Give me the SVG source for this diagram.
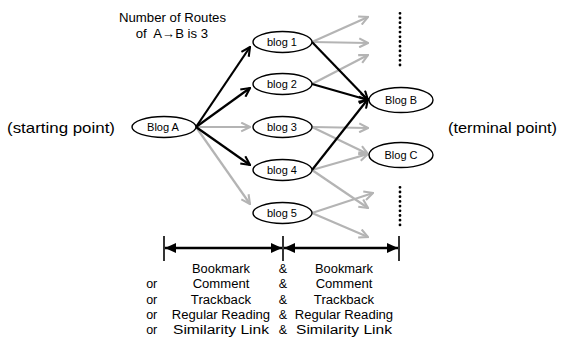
<svg xmlns="http://www.w3.org/2000/svg" width="561" height="338" viewBox="0 0 561 338">
  <style>
    text { font-family: "Liberation Sans", Arial, sans-serif; fill: #000; }
    .lbl { font-size: 11px; text-anchor: middle; }
    .cap { font-size: 12.5px; }
    .big { font-size: 14.5px; }
    .col { font-size: 12.5px; text-anchor: middle; }
    .node ellipse { fill: #fff; stroke: #000; stroke-width: 1.4; }
    .blk { stroke: #000; stroke-width: 2.2; fill: none; marker-end: url(#vBlk); }
    .gry { stroke: #b4b4b4; stroke-width: 2.2; fill: none; marker-end: url(#vGry); }
    .dots { stroke: #000; stroke-width: 2.8; stroke-linecap: round; stroke-dasharray: 0 4.7; }
    .tick { stroke: #000; stroke-width: 1.6; }
    .dim { stroke: #000; stroke-width: 2.4; }
  </style>
  <defs>
    <marker id="vBlk" viewBox="0 0 10 10" refX="9" refY="5" markerWidth="11" markerHeight="11" markerUnits="userSpaceOnUse" orient="auto">
      <path d="M1,1 L9,5 L1,9" fill="none" stroke="#000" stroke-width="1.9"/>
    </marker>
    <marker id="vGry" viewBox="0 0 10 10" refX="9" refY="5" markerWidth="11" markerHeight="11" markerUnits="userSpaceOnUse" orient="auto">
      <path d="M1,1 L9,5 L1,9" fill="none" stroke="#b4b4b4" stroke-width="1.9"/>
    </marker>
    <marker id="tri" viewBox="0 0 11 10" refX="11" refY="5" markerWidth="11" markerHeight="10" markerUnits="userSpaceOnUse" orient="auto-start-reverse">
      <path d="M0,0 L11,5 L0,10 Z" fill="#000"/>
    </marker>
  </defs>

  <!-- captions -->
  <text class="cap" x="119" y="22" textLength="107" lengthAdjust="spacingAndGlyphs">Number of Routes</text>
  <text class="cap" x="135.7" y="37.5" textLength="11" lengthAdjust="spacingAndGlyphs">of</text>
  <text class="cap" x="153.3" y="37.5" textLength="54.7" lengthAdjust="spacingAndGlyphs">A→B is 3</text>
  <text class="big" x="7" y="132.5" textLength="108" lengthAdjust="spacingAndGlyphs">(starting point)</text>
  <text class="big" x="448" y="132.5" textLength="109" lengthAdjust="spacingAndGlyphs">(terminal point)</text>

  <!-- connectors -->
  <g id="connectors">
    <line class="gry" x1="196" y1="127" x2="250" y2="127"/>
    <line class="gry" x1="196" y1="127" x2="250" y2="204"/>
    <line class="gry" x1="312" y1="42" x2="368" y2="17"/>
    <line class="gry" x1="312" y1="42" x2="368" y2="43"/>
    <line class="gry" x1="312" y1="84" x2="368" y2="55"/>
    <line class="gry" x1="312" y1="127" x2="368" y2="128"/>
    <line class="gry" x1="312" y1="127" x2="368" y2="154"/>
    <line class="gry" x1="312" y1="170" x2="368" y2="154"/>
    <line class="gry" x1="312" y1="170" x2="368" y2="208"/>
    <line class="gry" x1="312" y1="213" x2="373" y2="193"/>
    <line class="gry" x1="312" y1="213" x2="368" y2="237"/>
    <line class="blk" x1="196" y1="127" x2="250" y2="47"/>
    <line class="blk" x1="196" y1="127" x2="250" y2="88"/>
    <line class="blk" x1="196" y1="127" x2="250" y2="165"/>
    <line class="blk" x1="312" y1="42" x2="368" y2="100"/>
    <line class="blk" x1="312" y1="84" x2="368" y2="100"/>
    <line class="blk" x1="312" y1="170" x2="368" y2="99"/>
  </g>

  <!-- continuation dots -->
  <line class="dots" x1="400" y1="13.3" x2="400" y2="66"/>
  <line class="dots" x1="400" y1="187.3" x2="400" y2="229"/>

  <!-- nodes -->
  <g id="blogA" class="node"><ellipse cx="164" cy="127" rx="32" ry="10.5"/><text class="lbl" x="163" y="131" textLength="32" lengthAdjust="spacingAndGlyphs">Blog A</text></g>
  <g id="blog1" class="node"><ellipse cx="282.5" cy="42" rx="29.5" ry="10.5"/><text class="lbl" x="282" y="46" textLength="30" lengthAdjust="spacingAndGlyphs">blog 1</text></g>
  <g id="blog2" class="node"><ellipse cx="282.5" cy="84" rx="29.5" ry="10.5"/><text class="lbl" x="282" y="88" textLength="30" lengthAdjust="spacingAndGlyphs">blog 2</text></g>
  <g id="blog3" class="node"><ellipse cx="282.5" cy="127" rx="29.5" ry="10.5"/><text class="lbl" x="282" y="131" textLength="30" lengthAdjust="spacingAndGlyphs">blog 3</text></g>
  <g id="blog4" class="node"><ellipse cx="282.5" cy="170" rx="29.5" ry="10.5"/><text class="lbl" x="282" y="174" textLength="30" lengthAdjust="spacingAndGlyphs">blog 4</text></g>
  <g id="blog5" class="node"><ellipse cx="282.5" cy="213" rx="29.5" ry="10.5"/><text class="lbl" x="282" y="217" textLength="30" lengthAdjust="spacingAndGlyphs">blog 5</text></g>
  <g id="blogB" class="node"><ellipse cx="401" cy="100" rx="32" ry="12.5"/><text class="lbl" x="401" y="104" textLength="32" lengthAdjust="spacingAndGlyphs">Blog B</text></g>
  <g id="blogC" class="node"><ellipse cx="401" cy="155" rx="32" ry="12.5"/><text class="lbl" x="401" y="159" textLength="33" lengthAdjust="spacingAndGlyphs">Blog C</text></g>

  <!-- dimension line -->
  <g id="dimension">
    <line class="tick" x1="164" y1="236" x2="164" y2="261"/>
    <line class="tick" x1="283" y1="236" x2="283" y2="261"/>
    <line class="tick" x1="399" y1="236" x2="399" y2="261"/>
    <line class="dim" x1="165" y1="248" x2="282" y2="248" marker-start="url(#tri)" marker-end="url(#tri)"/>
    <line class="dim" x1="284" y1="248" x2="398" y2="248" marker-start="url(#tri)" marker-end="url(#tri)"/>
  </g>

  <!-- action list -->
  <g id="actions">
    <text class="col" x="221" y="273" textLength="58" lengthAdjust="spacingAndGlyphs">Bookmark</text>
    <text class="col" x="221" y="288.3" textLength="56.7" lengthAdjust="spacingAndGlyphs">Comment</text>
    <text class="col" x="221" y="303.6" textLength="60.3" lengthAdjust="spacingAndGlyphs">Trackback</text>
    <text class="col" x="221" y="318.9" textLength="98.3" lengthAdjust="spacingAndGlyphs">Regular Reading</text>
    <text class="col" x="221" y="334.2" textLength="96" lengthAdjust="spacingAndGlyphs">Similarity Link</text>
    <text class="col" x="344" y="273" textLength="58" lengthAdjust="spacingAndGlyphs">Bookmark</text>
    <text class="col" x="344" y="288.3" textLength="56.7" lengthAdjust="spacingAndGlyphs">Comment</text>
    <text class="col" x="344" y="303.6" textLength="60.3" lengthAdjust="spacingAndGlyphs">Trackback</text>
    <text class="col" x="344" y="318.9" textLength="98.3" lengthAdjust="spacingAndGlyphs">Regular Reading</text>
    <text class="col" x="344" y="334.2" textLength="96" lengthAdjust="spacingAndGlyphs">Similarity Link</text>
    <text class="col" x="283" y="273">&amp;</text>
    <text class="col" x="283" y="288.3">&amp;</text>
    <text class="col" x="283" y="303.6">&amp;</text>
    <text class="col" x="283" y="318.9">&amp;</text>
    <text class="col" x="283" y="334.2">&amp;</text>
    <text class="col" x="151.7" y="288.3">or</text>
    <text class="col" x="151.7" y="303.6">or</text>
    <text class="col" x="151.7" y="318.9">or</text>
    <text class="col" x="151.7" y="334.2">or</text>
  </g>
</svg>
